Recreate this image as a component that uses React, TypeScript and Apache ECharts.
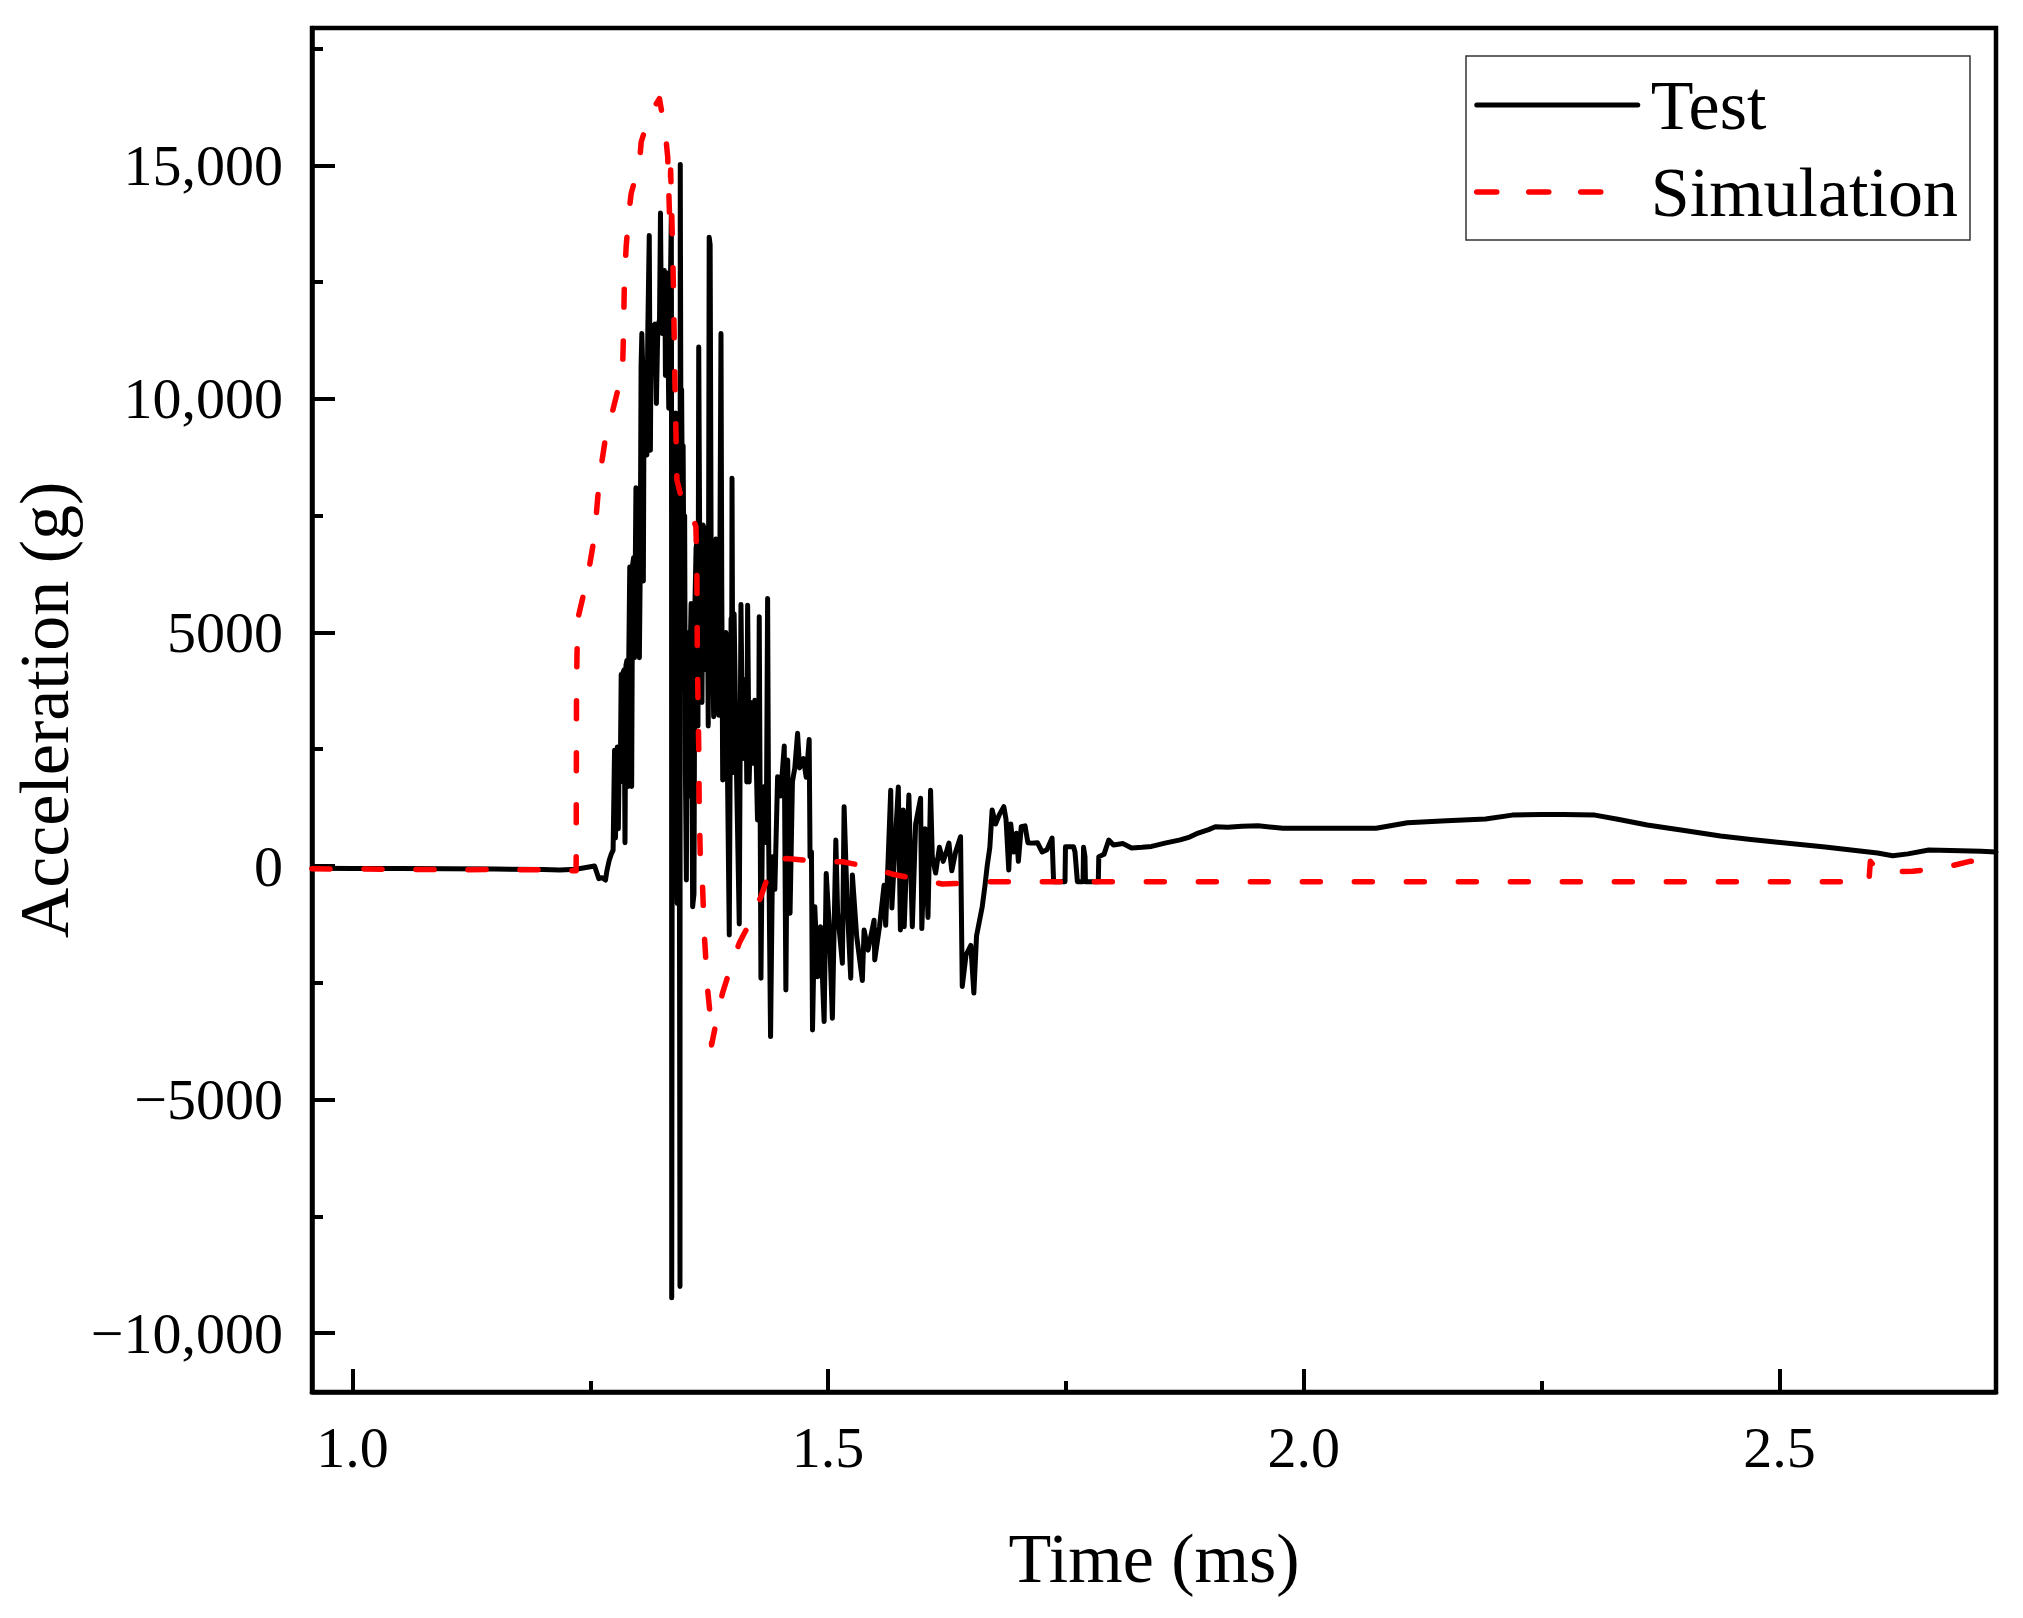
import React, { useEffect, useRef } from "react";
import * as echarts from "echarts";

const FONT = "'Liberation Serif', 'Times New Roman', serif";

const X_MIN = 0.9575;
const X_MAX = 2.7276;
const Y_MIN = -11260;
const Y_MAX = 17940;

const xMajor = [1.0, 1.5, 2.0, 2.5];
const xMinor = [1.25, 1.75, 2.25];
const yMajor = [-10000, -5000, 0, 5000, 10000, 15000];
const yMinor = [-7500, -2500, 2500, 7500, 12500, 17500];

const seriesNames = ["Test", "Simulation"];

// Test: pre-impact baseline
const testPre: number[][] = [
  [0.9575, -50], [1.0, -55], [1.05, -55], [1.1, -60], [1.15, -65], [1.2, -75], [1.218, -85],
  [1.235, -70], [1.2545, 0], [1.257, -150], [1.259, -270], [1.2625, -250], [1.266, -300],
  [1.2675, -100], [1.27, 130], [1.272, 250], [1.274, 340],
];

// Test: rise and main impact
const testImpact: number[][] = [
  [1.2755, 2480], [1.2765, 600], [1.2775, 2000], [1.2785, 2550], [1.2795, 800], [1.2805, 2500],
  [1.2815, 1800], [1.2825, 4100], [1.2835, 2000], [1.2845, 4150], [1.2855, 4200], [1.2865, 500],
  [1.2875, 4300], [1.2885, 4400], [1.2895, 1700], [1.2905, 4500], [1.2915, 6400], [1.2925, 6300],
  [1.2935, 1700], [1.2945, 6450], [1.2955, 6600], [1.2965, 4460], [1.2980, 8100], [1.2990, 6400],
  [1.2999, 6500], [1.3008, 6200], [1.3016, 4460], [1.3025, 6300], [1.3034, 10700], [1.3042, 11400],
  [1.3050, 10800], [1.3058, 6100], [1.3066, 10500], [1.3075, 9600], [1.3085, 8900], [1.3095, 8800],
  [1.3105, 11500], [1.3120, 13500], [1.3126, 11000], [1.3132, 8900], [1.3140, 11500], [1.3160, 11550],
  [1.3180, 11600], [1.3195, 9900], [1.3210, 11550], [1.3228, 11700], [1.3238, 13980], [1.3246, 12000],
  [1.3255, 11400], [1.3265, 11800], [1.3278, 12750], [1.3284, 12600], [1.3290, 10500], [1.3298, 12700],
  [1.3306, 12500], [1.3315, 11600], [1.3325, 9800], [1.3352, 13930], [1.3354, 10300], [1.3356, -9240],
  [1.3362, 2500], [1.3376, 3100], [1.3390, 3600], [1.3398, 9700], [1.3405, 500], [1.3414, -800],
  [1.3422, 4800], [1.3432, 7000], [1.3443, -9000], [1.3446, 15020], [1.3452, 9800], [1.3460, 10200],
  [1.3468, 7800], [1.3476, 9000], [1.3484, 6000], [1.3492, 7500], [1.3500, 2000], [1.3510, -300],
  [1.3520, 5000], [1.3532, 1500], [1.3545, 4000], [1.3560, 5620], [1.3576, -870], [1.3590, -600],
  [1.3600, 5600], [1.3612, 6800], [1.3625, 7000], [1.3632, 3000], [1.3640, 11110], [1.3650, 7000],
  [1.3662, 6900], [1.3674, 3500], [1.3686, 7300], [1.3700, 7200], [1.3712, 4200], [1.3728, 6900],
  [1.3740, 3000], [1.3750, 13460], [1.3760, 13300], [1.3770, 6900], [1.3797, 3195], [1.3805, 6800],
  [1.3820, 7000], [1.3835, 6700], [1.3850, 3230], [1.3862, 6500], [1.3874, 11400], [1.3882, 6000],
  [1.3892, 1840], [1.3905, 2500], [1.3915, 3600], [1.3926, 5000], [1.3961, -1476], [1.3970, 2100],
  [1.3980, 5300], [1.3985, 2600], [1.3990, 8300], [1.4000, 2000], [1.4012, 5400], [1.4031, 2700],
  [1.4066, -1240], [1.4075, 2300], [1.4084, 5600], [1.4100, 2600], [1.4120, 2300], [1.4135, 4000],
  [1.4145, 1800], [1.4154, 5585], [1.4170, 1800], [1.4190, 3500], [1.4206, 2200], [1.4230, 3550],
  [1.4258, 984], [1.4270, 2270], [1.4276, 5336], [1.4285, 1500], [1.4294, -2404], [1.4310, 980],
  [1.4330, 1700], [1.4350, 500], [1.4364, 5728], [1.4375, 600], [1.4395, -3652], [1.4416, 200],
  [1.4440, -500], [1.4469, 1911], [1.4500, 1500], [1.4539, 2568], [1.4556, -2654], [1.4575, 2270],
  [1.4600, -1010], [1.4625, 1800], [1.4650, 2100], [1.4679, 2840], [1.4700, 2100], [1.4740, 2300],
  [1.4770, 1900], [1.4801, 2710], [1.4810, 200], [1.4825, 300], [1.4836, -3510], [1.4860, -870],
  [1.4890, -2370], [1.4920, -1300], [1.4958, -3330], [1.4980, -160], [1.5010, -1200], [1.5045, -3260],
  [1.5081, 556], [1.5100, -1000], [1.5150, -2080], [1.5168, 1270], [1.5200, -800], [1.5238, -2400],
  [1.5255, -190], [1.5300, -1500], [1.5360, -2450], [1.5378, -1370], [1.5420, -1800], [1.5483, -1160],
  [1.5490, -2010], [1.5540, -1300], [1.5588, -410], [1.5605, -1270], [1.5658, 1620], [1.5670, -900],
];

// Test: oscillating decay
const testDecay: number[][] = [
  [1.5700, 300], [1.5738, 1690], [1.5760, -1370], [1.5790, 1200], [1.5800, -1300], [1.5849, 1520],
  [1.5885, -1300], [1.5920, 900], [1.5972, 1450], [1.5985, -1340], [1.6020, 800], [1.6050, -1100],
  [1.6077, 1620], [1.6095, 200], [1.6130, -150], [1.6170, 400], [1.6210, 100], [1.6250, 350],
  [1.6270, 490], [1.6300, -100], [1.6340, 300], [1.6392, 627], [1.6410, -2580], [1.6450, -1900],
  [1.6500, -1700], [1.6532, -2720], [1.6560, -1500], [1.6620, -870], [1.6650, -400], [1.6672, 0],
  [1.6700, 400], [1.6724, 1200], [1.6760, 900], [1.6800, 1100], [1.6847, 1270], [1.6870, 1000],
  [1.6899, -85], [1.6920, 900], [1.6950, 300], [1.6980, 700], [1.7000, 100], [1.7030, 840],
  [1.7070, 860], [1.7100, 500], [1.7140, 490], [1.7200, 500], [1.7250, 300], [1.7300, 350],
  [1.7354, 600], [1.7370, -335], [1.7490, -335], [1.7495, 413], [1.7580, 413], [1.7595, 300],
  [1.7620, -335], [1.7680, -335], [1.7685, 400], [1.7700, 200], [1.7705, -335], [1.7840, -335],
  [1.7845, 200], [1.7900, 250], [1.7950, 556], [1.8000, 450], [1.8100, 480], [1.8190, 385],
  [1.8300, 400], [1.8400, 420], [1.8540, 490], [1.8700, 560], [1.8800, 620], [1.8890, 705],
];

// Test: slow tail
const testTail: number[][] = [
  [1.9000, 780], [1.9070, 840], [1.9200, 830], [1.9350, 850], [1.9520, 860], [1.9780, 810],
  [2.0000, 810], [2.0500, 810], [2.0760, 810], [2.1090, 927], [2.1500, 970], [2.1910, 1005],
  [2.2190, 1090], [2.2500, 1105], [2.2730, 1105], [2.3060, 1090], [2.3300, 1000], [2.3610, 877],
  [2.4000, 760], [2.4380, 642], [2.4700, 570], [2.4930, 520], [2.5480, 406], [2.5800, 330],
  [2.6030, 278], [2.6190, 221], [2.6350, 260], [2.6570, 342], [2.6800, 330], [2.7120, 314],
  [2.7276, 300],
];

// Simulation
const simRise: number[][] = [
  [0.9575, -60], [1.05, -70], [1.1, -80], [1.15, -75], [1.2, -80], [1.225, -100], [1.235, -100],
  [1.2352, 130], [1.2355, 3500], [1.236, 4500], [1.237, 5300], [1.2439, 5900], [1.249, 6400],
  [1.2544, 7050], [1.2579, 7900], [1.2614, 8550], [1.2667, 9260], [1.2737, 9760], [1.2807, 10330],
  [1.2842, 10830], [1.2849, 11400], [1.2859, 12540], [1.2877, 13250], [1.2905, 13970], [1.293, 14400],
  [1.3017, 15040], [1.3035, 15500], [1.3122, 16070], [1.3227, 16430],
];

const simFall: number[][] = [
  [1.329, 15680], [1.3314, 15180], [1.3332, 14000], [1.3345, 14900], [1.3365, 13250], [1.3375, 12280],
  [1.339, 10330], [1.3411, 8260], [1.3455, 7900], [1.3559, 7550], [1.361, 7270], [1.362, 6500],
  [1.3625, 4500], [1.364, 2550], [1.3645, 1270], [1.366, -150], [1.368, -430], [1.37, -1510],
  [1.3735, -2670], [1.3769, -3370], [1.3775, -3830], [1.3821, -3370], [1.389, -2720], [1.3963, -2250],
  [1.4066, -1650], [1.4171, -1240], [1.4293, -657], [1.4381, -150], [1.445, 130], [1.456, 160],
  [1.49, 100], [1.515, 90], [1.544, -20], [1.567, -170], [1.597, -300], [1.62, -385], [1.64, -370],
  [1.66, -335],
];

const simTail: number[][] = [
  [1.7, -335], [2.0, -335], [2.3, -335], [2.594, -335], [2.5955, 100], [2.605, -130], [2.64, -110],
  [2.67, -50], [2.7, 100], [2.7276, 140],
];

const testData = [...testPre, ...testImpact, ...testDecay, ...testTail];
const simData = [...simRise, ...simFall, ...simTail];

function fmtY(v: number): string {
  const abs = Math.abs(v);
  const s = abs >= 10000 ? abs.toLocaleString("en-US") : String(abs);
  return (v < 0 ? "\u2212" : "") + s;
}

export default function App() {
  const ref = useRef<HTMLDivElement>(null);
  useEffect(() => {
    if (!ref.current) return;
    const chart = echarts.init(ref.current, undefined, { renderer: "svg" });
    const tickStyle = { color: "#000", width: 4 };
    const labelBase = { fontSize: 58, fontFamily: FONT, color: "#000" };
    const option: any = {
      animation: false,
      backgroundColor: "#fff",
      grid: {
        left: 312,
        right: 27,
        top: 28,
        bottom: 226,
        show: true,
        borderColor: "#000",
        borderWidth: 4.5,
        backgroundColor: "transparent",
        containLabel: false,
        outerBoundsMode: "none",
      },
      legend: {
        data: [
          { name: seriesNames[0], lineStyle: { width: 5, color: "#000" } },
          {
            name: seriesNames[1],
            lineStyle: { width: 5.5, color: "#ff0000", type: [20, 32, 20, 32, 20, 80], cap: "round" },
          },
        ],
        orient: "vertical",
        left: 1466,
        top: 56,
        itemWidth: 161,
        itemHeight: 30,
        itemGap: 17,
        padding: [14, 12, 13, 8],
        borderColor: "#333",
        borderWidth: 1.5,
        backgroundColor: "#fff",
        itemStyle: { opacity: 0 },
        textStyle: { fontSize: 70, fontFamily: FONT, color: "#000", padding: [0, 0, 0, 8] },
      },
      xAxis: [
        {
          type: "value",
          min: X_MIN,
          max: X_MAX,
          position: "bottom",
          axisLine: { show: true, onZero: false, lineStyle: { color: "#000", width: 4.5 } },
          axisTick: { show: true, inside: true, length: 23, lineStyle: tickStyle, customValues: xMajor },
          axisLabel: {
            ...labelBase,
            customValues: xMajor,
            margin: 26,
            formatter: (v: number) => v.toFixed(1),
          },
          splitLine: { show: false },
          name: "Time (ms)",
          nameLocation: "middle",
          nameGap: 131,
          nameTextStyle: { fontSize: 70, fontFamily: FONT, color: "#000" },
        },
        {
          type: "value",
          min: X_MIN,
          max: X_MAX,
          position: "bottom",
          axisLine: { show: false, onZero: false },
          axisTick: { show: true, inside: true, length: 11, lineStyle: tickStyle, customValues: xMinor },
          axisLabel: { show: false },
          splitLine: { show: false },
        },
      ],
      yAxis: [
        {
          type: "value",
          min: Y_MIN,
          max: Y_MAX,
          position: "left",
          axisLine: { show: true, onZero: false, lineStyle: { color: "#000", width: 4.5 } },
          axisTick: { show: true, inside: true, length: 23, lineStyle: tickStyle, customValues: yMajor },
          axisLabel: { ...labelBase, customValues: yMajor, margin: 29, formatter: fmtY },
          splitLine: { show: false },
          name: "Acceleration (g)",
          nameLocation: "middle",
          nameGap: 221,
          nameTextStyle: { fontSize: 70, fontFamily: FONT, color: "#000" },
        },
        {
          type: "value",
          min: Y_MIN,
          max: Y_MAX,
          position: "left",
          axisLine: { show: false, onZero: false },
          axisTick: { show: true, inside: true, length: 11, lineStyle: tickStyle, customValues: yMinor },
          axisLabel: { show: false },
          splitLine: { show: false },
        },
      ],
      series: [
        {
          name: seriesNames[0],
          type: "line",
          data: testData,
          xAxisIndex: 0,
          yAxisIndex: 0,
          symbol: "none",
          showSymbol: false,
          lineStyle: { color: "#000", width: 5, join: "round", cap: "round" },
          itemStyle: { color: "#000" },
        },
        {
          name: seriesNames[1],
          type: "line",
          data: simData,
          xAxisIndex: 0,
          yAxisIndex: 0,
          symbol: "none",
          showSymbol: false,
          lineStyle: { color: "#ff0000", width: 5.5, type: [18, 34], cap: "round", join: "round" },
          itemStyle: { color: "#ff0000" },
        },
      ],
    };
    chart.setOption(option);
    return () => chart.dispose();
  }, []);
  return (
    <div
      ref={ref}
      style={{ position: "fixed", left: 0, top: 0, width: 2023, height: 1618, background: "#fff" }}
    />
  );
}
